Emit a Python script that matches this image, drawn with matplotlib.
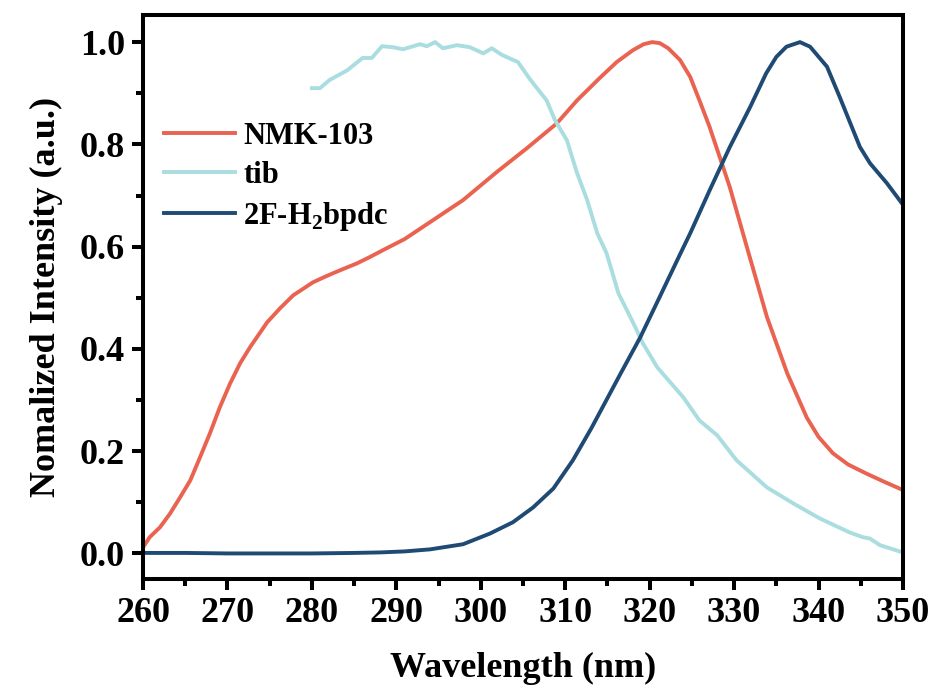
import numpy as np
import matplotlib
matplotlib.use("Agg")
from matplotlib import pyplot as plt
from matplotlib.ticker import MultipleLocator, FormatStrFormatter

# Normalized emission/excitation spectra
nmk_wl = [260.0, 260.8, 262.0, 263.2, 264.4, 265.6, 266.75, 267.9, 269.1, 270.3,
          271.5, 272.7, 274.7, 276.2, 277.8, 279.0, 280.1, 281.4, 282.5, 284.1,
          285.3, 286.9, 288.4, 291.0, 294.0, 297.9, 301.9, 305.5, 309.0, 311.4,
          314.1, 316.1, 318.0, 319.3, 320.3, 321.2, 322.2, 323.6, 324.8, 325.9,
          327.1, 328.3, 329.5, 330.5, 331.5, 333.9, 336.3, 338.6, 340.0, 341.7,
          343.5, 345.7, 347.8, 350.0]
nmk_int = [0.012, 0.032, 0.051, 0.078, 0.110, 0.143, 0.188, 0.234, 0.286, 0.332,
           0.372, 0.404, 0.452, 0.479, 0.505, 0.518, 0.530, 0.540, 0.548, 0.559,
           0.567, 0.580, 0.593, 0.615, 0.648, 0.691, 0.746, 0.793, 0.841, 0.886,
           0.930, 0.961, 0.984, 0.996, 1.000, 0.998, 0.988, 0.965, 0.932, 0.886,
           0.834, 0.775, 0.716, 0.658, 0.600, 0.462, 0.352, 0.266, 0.228, 0.196,
           0.174, 0.156, 0.140, 0.124]

tib_wl = [280.0, 280.96, 282.1, 284.2, 286.0, 287.1, 288.3, 289.6, 290.8, 292.8,
          293.6, 294.6, 295.5, 297.2, 298.7, 300.3, 301.3, 302.5, 304.4, 305.8,
          307.8, 308.8, 310.2, 311.4, 312.6, 313.8, 314.9, 316.3, 317.9, 319.2,
          320.9, 324.0, 325.9, 328.0, 330.3, 333.9, 337.0, 340.2, 343.7, 345.2,
          346.1, 347.3, 349.6, 350.0]
tib_int = [0.910, 0.910, 0.926, 0.945, 0.969, 0.969, 0.992, 0.990, 0.986, 0.996,
           0.992, 1.000, 0.988, 0.994, 0.990, 0.978, 0.988, 0.975, 0.961, 0.928,
           0.886, 0.847, 0.808, 0.744, 0.691, 0.626, 0.587, 0.509, 0.456, 0.411,
           0.364, 0.305, 0.260, 0.231, 0.182, 0.129, 0.098, 0.068, 0.041, 0.032,
           0.029, 0.016, 0.004, 0.002]

bpdc_wl = [260.0, 265.0, 270.0, 275.0, 280.0, 285.0, 288.1, 291.0, 294.0, 297.9,
           301.1, 303.8, 306.2, 308.6, 310.9, 313.1, 316.5, 318.9, 321.2, 323.6,
           324.8, 327.1, 329.5, 331.9, 333.8, 335.0, 336.2, 337.8, 339.0, 341.0,
           342.5, 344.9, 346.1, 348.1, 350.0]
bpdc_int = [0.001, 0.001, 0.000, 0.000, 0.000, 0.001, 0.002, 0.004, 0.008, 0.018,
            0.039, 0.061, 0.090, 0.127, 0.182, 0.245, 0.350, 0.423, 0.502, 0.585,
            0.626, 0.710, 0.795, 0.873, 0.939, 0.971, 0.991, 1.000, 0.991, 0.952,
            0.893, 0.795, 0.763, 0.724, 0.682]

plt.rcParams['font.family'] = ['Liberation Serif', 'DejaVu Serif']
plt.rcParams['font.weight'] = 'bold'
plt.rcParams['mathtext.fontset'] = 'custom'
plt.rcParams['mathtext.rm'] = 'Liberation Serif:bold'
plt.rcParams['mathtext.bf'] = 'Liberation Serif:bold'

fig = plt.figure(figsize=(9.33, 6.95), dpi=100)
ax = fig.add_axes([0.1533, 0.1669, 0.8145, 0.8115])

lw = 2.8
ax.plot(nmk_wl, nmk_int, color='#EA6351', lw=lw, label='NMK-103')
ax.plot(tib_wl, tib_int, color='#A9DDE0', lw=lw, label='tib')
ax.plot(bpdc_wl, bpdc_int, color='#1F4A74', lw=lw, label=r'2F-H$_\mathbf{2}$bpdc')

ax.set_xlim(260, 350)
ax.set_ylim(-0.05, 1.053)
ax.xaxis.set_major_locator(MultipleLocator(10))
ax.xaxis.set_minor_locator(MultipleLocator(5))
ax.yaxis.set_major_locator(MultipleLocator(0.2))
ax.yaxis.set_minor_locator(MultipleLocator(0.1))
ax.yaxis.set_major_formatter(FormatStrFormatter('%.1f'))

for sp in ax.spines.values():
    sp.set_linewidth(2.9)
ax.tick_params(which='major', direction='out', length=8, width=2.9,
               labelsize=26, pad=5)
ax.tick_params(which='minor', direction='out', length=5, width=2.9)
ax.tick_params(top=False, right=False, which='both')

ax.set_xlabel('Wavelength (nm)', fontsize=26, fontweight='bold', labelpad=16)
ax.set_ylabel('Nomalized Intensity (a.u.)', fontsize=26, fontweight='bold', labelpad=12)

ax.legend(loc='upper left', bbox_to_anchor=(0.0, 0.848), frameon=False,
          fontsize=22, handlelength=2.3, handletextpad=0.28, labelspacing=0.32,
          borderaxespad=0.3)

fig.savefig('out.png', dpi=100)
